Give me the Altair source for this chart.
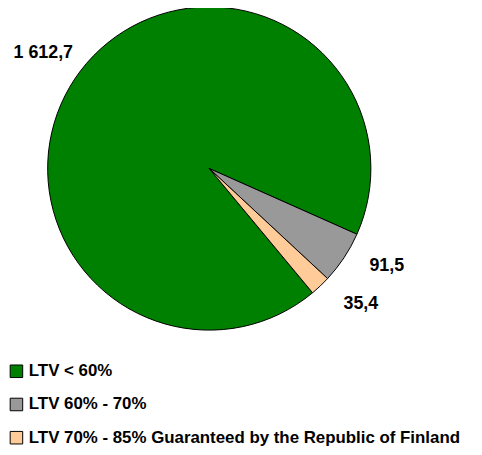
import math
import altair as alt
import pandas as pd

categories = ["LTV < 60%", "LTV 60% - 70%", "LTV 70% - 85% Guaranteed by the Republic of Finland"]
values = [1612.7, 91.5, 35.4]
labels = ["1 612,7", "91,5", "35,4"]
colors = ["#008000", "#999999", "#FFCC99"]
draw_order = [3, 1, 2]
label_shift = [(-4, 7), (8, -15), (12, -12)]

df = pd.DataFrame({"cat": categories, "value": values, "label": labels, "ord": draw_order})

start = math.radians(114)
theta_scale = alt.Scale(range=[start, start + 2 * math.pi])
FONT = "Liberation Sans Narrow, Arial Narrow, Liberation Sans, Arial, sans-serif"

base = alt.Chart(df)

arc = base.mark_arc(outerRadius=163, stroke="black", strokeWidth=1).encode(
    theta=alt.Theta("value:Q", stack=True, scale=theta_scale),
    order=alt.Order("ord:Q"),
    color=alt.Color(
        "cat:N",
        scale=alt.Scale(domain=categories, range=colors),
        sort=categories,
        legend=alt.Legend(
            title=None,
            orient="none",
            legendX=0,
            legendY=356,
            symbolType="square",
            symbolSize=160,
            symbolStrokeColor="black",
            symbolStrokeWidth=1,
            symbolOpacity=1,
            labelFont=FONT,
            labelFontSize=17,
            labelFontWeight="bold",
            labelColor="black",
            labelLimit=600,
            rowPadding=15.5,
            symbolOffset=0,
            labelOffset=4,
        ),
    ),
)

layers = [arc]
for i, lab in enumerate(labels):
    dx, dy = label_shift[i]
    layers.append(
        base.mark_text(radius=205, font=FONT, fontSize=18, fontWeight="bold", color="black", dx=dx, dy=dy)
        .encode(
            theta=alt.Theta("value:Q", stack=True, scale=theta_scale),
            order=alt.Order("ord:Q"),
            text="label:N",
            opacity=alt.condition(alt.datum.label == lab, alt.value(1), alt.value(0)),
        )
    )

chart = alt.layer(*layers).properties(
    width=406,
    height=320,
    autosize=alt.AutoSizeParams(type="none"),
    padding={"left": 0, "top": 0, "right": 64, "bottom": 119},
).configure_view(stroke=None)

chart.save("out.html", embed_options={"renderer": "svg", "actions": False})
